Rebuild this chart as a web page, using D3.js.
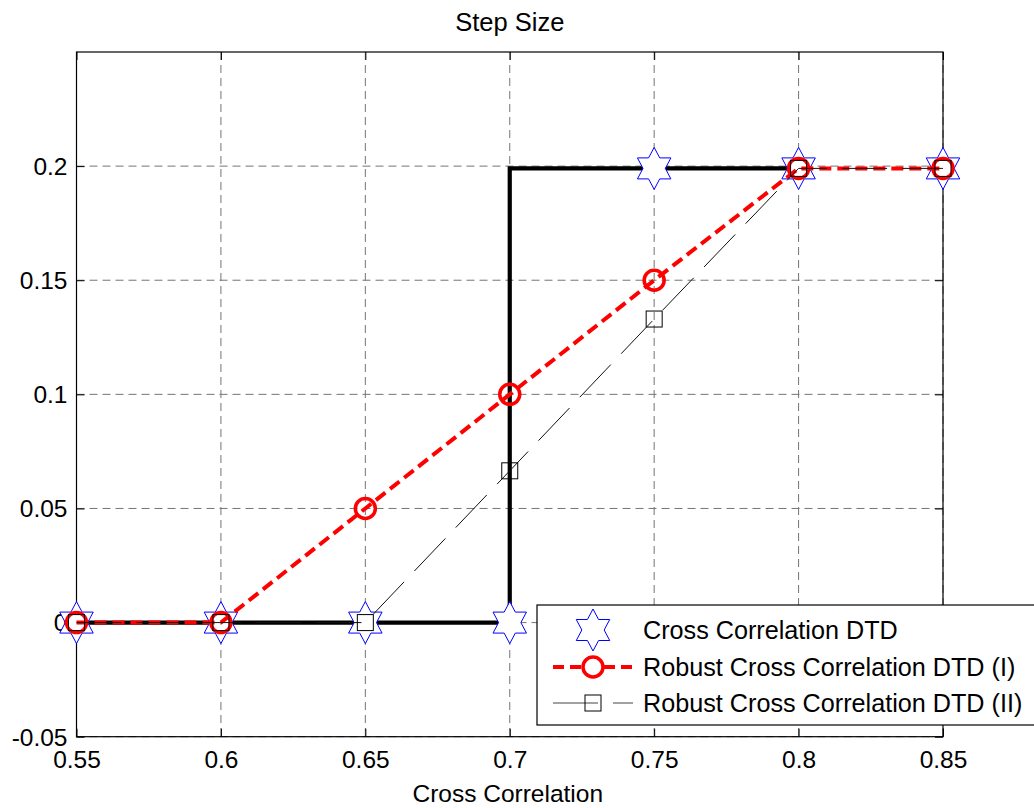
<!DOCTYPE html>
<html>
<head>
<meta charset="utf-8">
<script src="https://cdn.jsdelivr.net/npm/d3@7"></script>
<style>
  html, body { margin: 0; padding: 0; background: #fff; }
  svg { display: block; font-family: "Liberation Sans", Arial, Helvetica, sans-serif; }
</style>
</head>
<body>
<svg id="chart" width="1034" height="808"></svg>
<script>
// Cross-correlation threshold values on the x axis
const crossCorr = [0.55, 0.6, 0.65, 0.7, 0.75, 0.8, 0.85];

// Step size chosen by each detector
const ccDTD       = [0, 0, 0, 0, 0.199, 0.199, 0.199];
const robustDTD1  = [0, 0, 0.05, 0.1, 0.15, 0.199, 0.199];
const robustDTD2  = [0, 0, 0, 0.0665, 0.133, 0.199, 0.199];

// Ideal hard-switching step rule (thick black curve)
const stepX = [0.55, 0.7, 0.7, 0.8];
const stepY = [0, 0, 0.199, 0.199];

const xTicks = [0.55, 0.6, 0.65, 0.7, 0.75, 0.8, 0.85];
const yTicks = [-0.05, 0, 0.05, 0.1, 0.15, 0.2];

const seriesNames = [
  "Cross Correlation DTD",
  "Robust Cross Correlation DTD (I)",
  "Robust Cross Correlation DTD (II)"
];

const svg = d3.select("#chart");
const pL = 76.5, pR = 943, pT = 52, pB = 736.7;

const x = d3.scaleLinear().domain([0.55, 0.85]).range([pL, pR]);
const y = d3.scaleLinear().domain([-0.05, 0.25]).range([pB, pT]);

const fmt = d => String(+d.toFixed(2));

// Grid
const grid = svg.append("g").attr("stroke", "#747474").attr("stroke-width", 1)
  .attr("stroke-dasharray", "8,5").attr("fill", "none");
xTicks.forEach(t => grid.append("line")
  .attr("x1", x(t)).attr("x2", x(t)).attr("y1", pT).attr("y2", pB));
yTicks.forEach(t => grid.append("line")
  .attr("x1", pL).attr("x2", pR).attr("y1", y(t)).attr("y2", y(t)));

// Axes (ticks pointing inwards, box on all sides)
const tickLen = 8;
const axB = svg.append("g").attr("transform", `translate(0,${pB})`)
  .call(d3.axisBottom(x).tickValues(xTicks).tickSizeInner(-tickLen).tickSizeOuter(0).tickPadding(14).tickFormat(fmt));
const axT = svg.append("g").attr("transform", `translate(0,${pT})`)
  .call(d3.axisTop(x).tickValues(xTicks).tickSizeInner(-tickLen).tickSizeOuter(0).tickFormat(""));
const axL = svg.append("g").attr("transform", `translate(${pL},0)`)
  .call(d3.axisLeft(y).tickValues(yTicks).tickSizeInner(-tickLen).tickSizeOuter(0).tickPadding(9).tickFormat(fmt));
const axR = svg.append("g").attr("transform", `translate(${pR},0)`)
  .call(d3.axisRight(y).tickValues(yTicks).tickSizeInner(-tickLen).tickSizeOuter(0).tickFormat(""));
[axB, axT, axL, axR].forEach(a => {
  a.select(".domain").remove();
  a.selectAll("line").attr("stroke", "#000");
  a.selectAll("text").attr("fill", "#000").attr("font-size", 24.5)
    .attr("font-family", '"Liberation Sans", Arial, sans-serif');
});
axL.selectAll("text").attr("dy", "0.34em");
axB.selectAll("text").attr("dy", "0.71em");

svg.append("rect").attr("x", pL).attr("y", pT)
  .attr("width", pR - pL).attr("height", pB - pT)
  .attr("fill", "none").attr("stroke", "#000").attr("stroke-width", 1.2);

// Marker shapes
function hexagram(ro) {
  const ri = ro / Math.sqrt(3);
  const pts = [];
  for (let i = 0; i < 12; i++) {
    const a = -Math.PI / 2 + i * Math.PI / 6;
    const r = i % 2 === 0 ? ro : ri;
    pts.push([r * Math.cos(a) * 0.92, r * Math.sin(a)]);
  }
  return "M" + pts.map(p => p.join(",")).join("L") + "Z";
}
const starPath = hexagram(21);

const line = d3.line().x(d => x(d[0])).y(d => y(d[1]));

// Thick black step rule
svg.append("path").datum(d3.zip(stepX, stepY)).attr("d", line)
  .attr("fill", "none").attr("stroke", "#000").attr("stroke-width", 4.2);

// Cross Correlation DTD: hexagram markers only
svg.append("g").selectAll("path").data(d3.zip(crossCorr, ccDTD)).join("path")
  .attr("d", starPath)
  .attr("transform", d => `translate(${x(d[0])},${y(d[1])})`)
  .attr("fill", "#fff").attr("stroke", "#0000ff").attr("stroke-width", 1);

// Robust DTD (I): red dashed with circles
svg.append("path").datum(d3.zip(crossCorr, robustDTD1)).attr("d", line)
  .attr("fill", "none").attr("stroke", "#ff0000").attr("stroke-width", 4)
  .attr("stroke-dasharray", "12,6");
svg.append("g").selectAll("circle").data(d3.zip(crossCorr, robustDTD1)).join("circle")
  .attr("cx", d => x(d[0])).attr("cy", d => y(d[1])).attr("r", 10)
  .attr("fill", "none").attr("stroke", "#ff0000").attr("stroke-width", 3.5);

// Robust DTD (II): thin long-dashed with squares
svg.append("path").datum(d3.zip(crossCorr, robustDTD2)).attr("d", line)
  .attr("fill", "none").attr("stroke", "#111").attr("stroke-width", 1)
  .attr("stroke-dasharray", "45,15");
svg.append("g").selectAll("rect").data(d3.zip(crossCorr, robustDTD2)).join("rect")
  .attr("x", d => x(d[0]) - 8).attr("y", d => y(d[1]) - 8)
  .attr("width", 16).attr("height", 16)
  .attr("fill", "none").attr("stroke", "#000").attr("stroke-width", 1);

// Title and axis label
svg.append("text").attr("x", (pL + pR) / 2).attr("y", 31)
  .attr("text-anchor", "middle").attr("font-size", 25.5).text("Step Size");
svg.append("text").attr("x", (pL + pR) / 2 - 2).attr("y", 802)
  .attr("text-anchor", "middle").attr("font-size", 24.5).text("Cross Correlation");

// Legend
const lg = svg.append("g");
lg.append("rect").attr("x", 537).attr("y", 605).attr("width", 520).attr("height", 120)
  .attr("fill", "#fff").attr("stroke", "#000").attr("stroke-width", 1.2);
const rowY = [630, 667, 703];
const sx0 = 553, sx1 = 633, mx = 593, tx = 643;

lg.append("path").attr("d", starPath).attr("transform", `translate(${mx},${rowY[0]})`)
  .attr("fill", "#fff").attr("stroke", "#0000ff").attr("stroke-width", 1);

lg.append("line").attr("x1", sx0).attr("x2", sx1).attr("y1", rowY[1]).attr("y2", rowY[1])
  .attr("stroke", "#ff0000").attr("stroke-width", 4).attr("stroke-dasharray", "11,6");
lg.append("circle").attr("cx", mx).attr("cy", rowY[1]).attr("r", 10)
  .attr("fill", "#fff").attr("stroke", "#ff0000").attr("stroke-width", 3.5);

lg.append("line").attr("x1", sx0).attr("x2", sx1).attr("y1", rowY[2]).attr("y2", rowY[2])
  .attr("stroke", "#444").attr("stroke-width", 1).attr("stroke-dasharray", "45,15");
lg.append("rect").attr("x", mx - 8).attr("y", rowY[2] - 8).attr("width", 16).attr("height", 16)
  .attr("fill", "none").attr("stroke", "#000").attr("stroke-width", 1);

seriesNames.forEach((n, i) => lg.append("text").attr("x", tx).attr("y", rowY[i])
  .attr("dy", "0.35em").attr("font-size", 25.2).text(n));
</script>
</body>
</html>
